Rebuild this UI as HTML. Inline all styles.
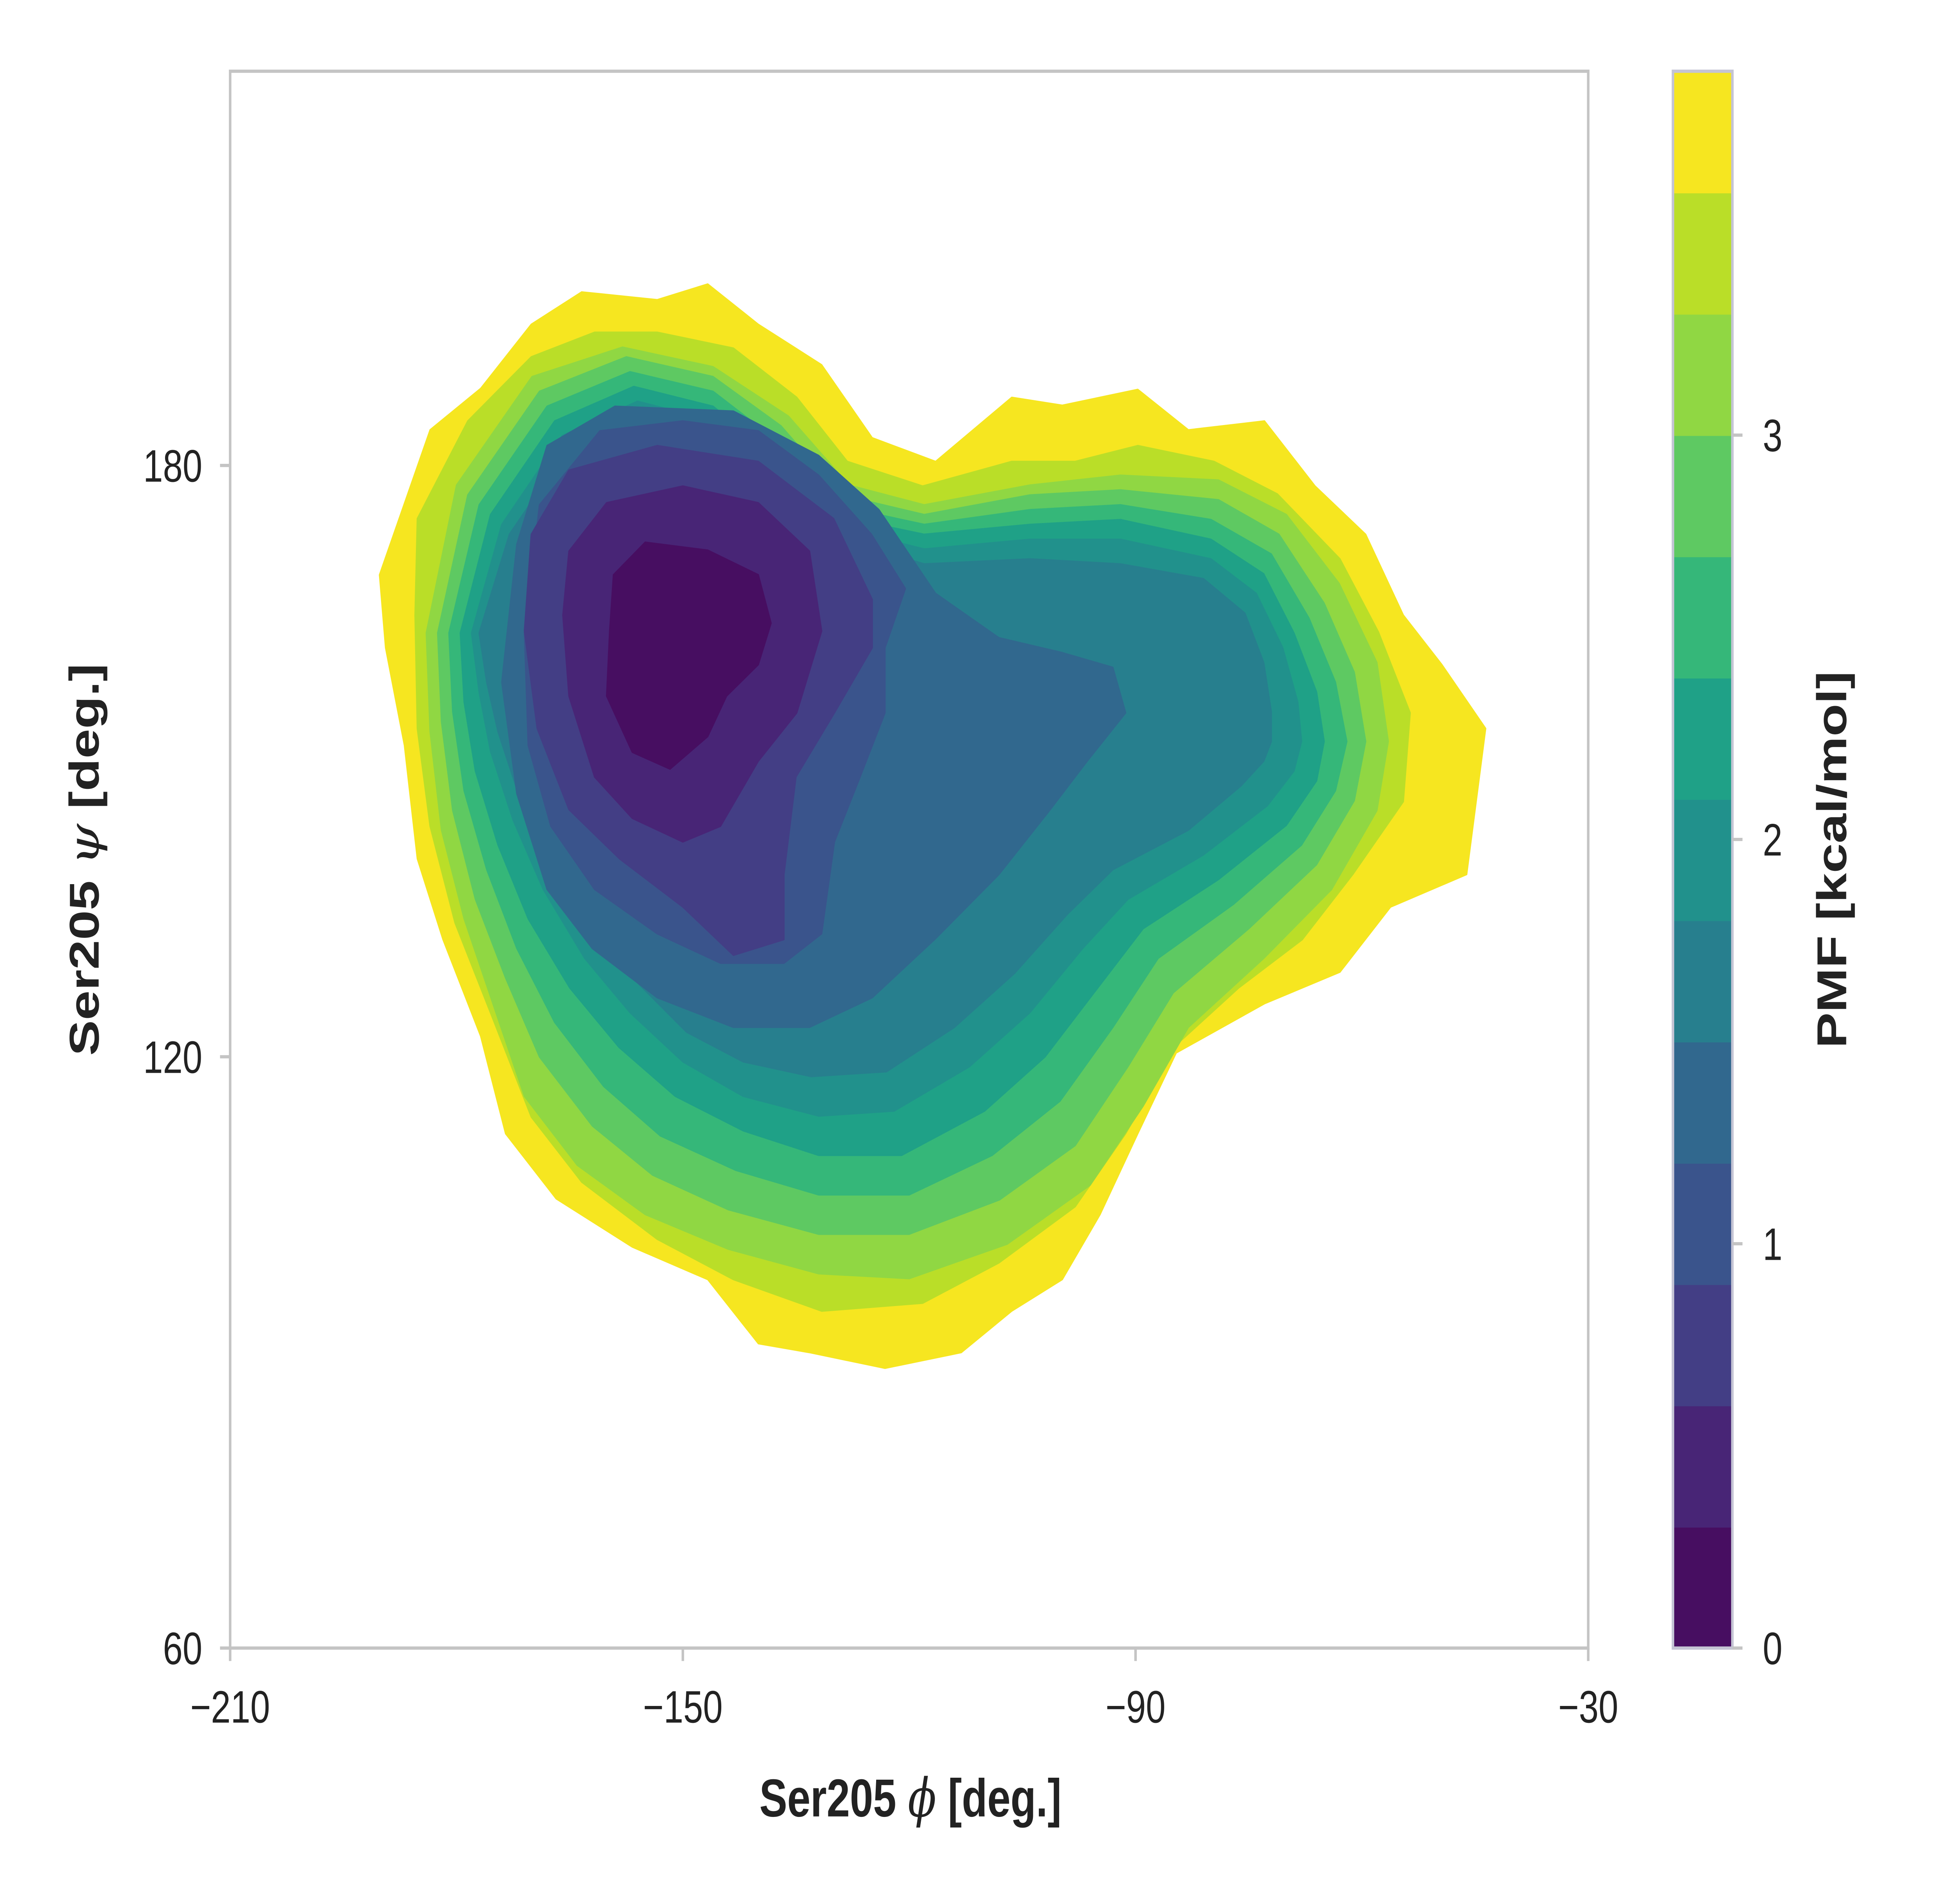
<!DOCTYPE html>
<html>
<head>
<meta charset="utf-8">
<style>
html,body{margin:0;padding:0;background:#fff;width:100%;height:100%;overflow:hidden;}
svg{display:block;width:100vw;height:100vh;}
text{font-family:"Liberation Sans","DejaVu Sans",sans-serif;fill:#222;}
</style>
</head>
<body>
<svg id="chart" viewBox="0 0 1550 1162.5" preserveAspectRatio="none" xmlns="http://www.w3.org/2000/svg">
  <rect x="0" y="0" width="1550" height="1162.5" fill="#fff"/>
  <g id="contours"></g>
  <rect x="182" y="44" width="1074" height="974" fill="none" stroke="#c4c4c4" stroke-width="2"/>
  <g id="xaxis"></g>
  <g id="yaxis"></g>
  <text x="720" y="1122" text-anchor="middle" font-size="33" font-weight="bold">Ser205 <tspan font-style="italic" font-family="DejaVu Serif, serif" font-weight="normal">ϕ</tspan> [deg.]</text>
  <text transform="translate(78,531) rotate(-90)" text-anchor="middle" font-size="33" font-weight="bold">Ser205 <tspan font-style="italic" font-family="DejaVu Serif, serif" font-weight="normal">ψ</tspan> [deg.]</text>
  <g id="colorbar"></g>
  <text transform="translate(1460,531) rotate(-90)" text-anchor="middle" font-size="33" font-weight="bold">PMF [kcal/mol]</text>
</svg>
<script>
// ---- data ----
const levels = [0,0.3,0.6,0.9,1.2,1.5,1.8,2.1,2.4,2.7,3.0,3.3,3.6,3.9];
const bandColors = ["#470e61","#482576","#433e85","#3a548c","#31688e","#277f8e","#21918c","#1fa187","#35b779","#5ec962","#90d743","#bade28","#f6e620"];
const xTicks = [-210,-150,-90,-30];
const yTicks = [60,120,180];
const cbTicks = [0,1,2,3];
const contourL13 = [[-190.2,168.9],[-183.5,183.6],[-176.8,187.8],[-170.1,194.3],[-163.4,197.6],[-153.4,196.8],[-146.7,198.4],[-140,194.3],[-131.6,190.2],[-124.9,182.8],[-116.5,180.4],[-106.4,186.9],[-99.7,186.1],[-89.7,187.7],[-83,183.6],[-72.9,184.5],[-66.2,177.9],[-59.5,173],[-54.5,164.8],[-49.4,159.8],[-43.6,153.3],[-46.1,138.5],[-56.2,135.2],[-62.9,128.6],[-72.9,125.4],[-84.6,120.4],[-89.7,112.2],[-94.7,104],[-99.7,97.4],[-106.4,94.2],[-113.1,90],[-123.2,88.4],[-133.2,90],[-140,90.9],[-146.7,97.4],[-156.7,100.7],[-166.8,105.6],[-173.5,112.2],[-176.8,122.1],[-181.8,131.9],[-185.2,140.1],[-186.9,151.6],[-189.4,161.5]];
const contourL12 = [[-185.2,174.6],[-178.5,184.5],[-170.1,191],[-161.7,193.5],[-153.4,193.5],[-143.3,191.9],[-134.9,186.9],[-128.2,180.4],[-118.2,177.9],[-106.4,180.4],[-98,180.4],[-89.7,182],[-79.6,180.4],[-71.2,177.1],[-62.9,170.5],[-57.8,163.1],[-53.6,154.9],[-54.5,145.9],[-61.2,138.5],[-67.9,131.9],[-76.3,127],[-84.6,121.2],[-91.3,112.2],[-98,104.8],[-108.1,99.1],[-118.2,95],[-131.6,94.2],[-143.3,97.4],[-153.4,101.5],[-163.4,107.3],[-170.1,113.9],[-175.1,123.7],[-180.2,133.6],[-183.5,143.4],[-185.2,153.3],[-185.5,164.8]];
const contourL11 = [[-184,163],[-180,178],[-170,189],[-158,192],[-146,190],[-136,185],[-128,178],[-118,176],[-104,178],[-92,179],[-79,178.5],[-70,175],[-63,168],[-58,160],[-56.5,152],[-58,145],[-64,137],[-73,130],[-83,123],[-89,115],[-96,107],[-107,101],[-120,97.5],[-132,98],[-144,100.5],[-155,104],[-164,109],[-171,116],[-175,125],[-179,134],[-182,143],[-183.5,153]];
const contourL10 = [[-182.5,163],[-178.5,177],[-169,187.5],[-157.5,191],[-146,189],[-137,184],[-129,177],[-118,175],[-104,177],[-92,177.5],[-79,176.5],[-71,173],[-65,166],[-61,159],[-59.5,152],[-61,146],[-66,139.5],[-75,133],[-85,126.5],[-91,119],[-98,111],[-108,105.5],[-120,102],[-132,102],[-144,104.5],[-154,108],[-162,113],[-169,120],[-173.5,128],[-177.5,136],[-180.5,145],[-182,154]];
const contourL9 = [[-181,163],[-177,176],[-168,186],[-157,189.5],[-146,187.5],[-137.5,182.5],[-130,176],[-118,174],[-104,175.5],[-92,176],[-80,174.5],[-72,171],[-67,164.5],[-63.5,158],[-62,152],[-63.5,147],[-68,141.5],[-77,135.5],[-87,130],[-93,123],[-100,115.5],[-109,110],[-120,106],[-132,106],[-143,108.5],[-153,112],[-160.5,117],[-167,123.5],[-172,131],[-176,139],[-179,147],[-180.5,155]];
const contourL8 = [[-179.5,163],[-175.5,175],[-167,184.5],[-156.5,188],[-146,186],[-138,181],[-130.5,175],[-118,173],[-104,174],[-92,174.5],[-80,172.5],[-73,169],[-69,163],[-66,157],[-65,152],[-66,148],[-70,143.5],[-79,138],[-89,133],[-95,127],[-102,120],[-110,114.5],[-121,110],[-132,110],[-142,112.5],[-151,116],[-158.5,121],[-165,127],[-170.5,134],[-174.5,141.5],[-177.5,149],[-179,156]];
const contourL7 = [[-178,163],[-174,174],[-166,183],[-156,186.5],[-146,184.5],[-138.5,180],[-131,174],[-118,171.5],[-104,172.5],[-92,172.5],[-80,170.5],[-74,167],[-70.5,161.5],[-68.5,156],[-68,152],[-69,149],[-72.5,145.5],[-81,140.5],[-91,136],[-97,131],[-104,124.5],[-112,119],[-122,114.5],[-132,114],[-142,116],[-150,119.5],[-157,124.5],[-163,130],[-168.5,137],[-172.5,144],[-175.5,151],[-177,157]];
const contourL6 = [[-177,163],[-173,173],[-165,182],[-156,185],[-146,183],[-139,179],[-131.5,173],[-118,170],[-104,170.5],[-92,170],[-81,168.5],[-75.5,165],[-73,160],[-72,155],[-72,152],[-73,150],[-76,147.5],[-83,143],[-93,139],[-99,134.5],[-106,128.5],[-114,123],[-123,118.5],[-133,118],[-142,119.5],[-149.5,122.5],[-156,127.5],[-162,133],[-167,139.5],[-171.5,146],[-174.5,153],[-176,158]];
const contourL5 = [[-174,158],[-172,172],[-168,182],[-159,186],[-143.3,185.5],[-132,181],[-124,175.5],[-116.5,167],[-108.1,162.5],[-99.7,161],[-93,159.5],[-91.3,154.9],[-96.4,150],[-101.4,145],[-108.1,138.5],[-116.5,132],[-124.9,126],[-133.2,123],[-143.3,123],[-153.4,126],[-162,131],[-168,137],[-172,146.7]];
const contourL4 = [[-171,163],[-169,176],[-161,183.5],[-150,184.5],[-140,183.5],[-132,179],[-125,173],[-120.5,167.5],[-123.2,161.5],[-123.2,154.9],[-126.5,148.4],[-129.9,141.8],[-131.6,132.5],[-136.6,129.5],[-145,129.5],[-153.4,132.5],[-161.7,137],[-167.5,143.4],[-170.5,151.6]];
const contourL3 = [[-170.1,173],[-165.1,179.5],[-153.4,182],[-140,180.4],[-130,174.6],[-124.9,166.4],[-124.9,161.5],[-129.9,154.9],[-135,148.4],[-136.6,138.5],[-136.6,131.9],[-143.3,130.3],[-150,135.2],[-158.4,140.1],[-165.1,145.1],[-169.3,153.3],[-171,163.2]];
const contourL2 = [[-165.1,171.3],[-160.1,176.2],[-150,177.9],[-140,176.2],[-133.2,171.3],[-131.6,163.2],[-134.9,154.9],[-140,150],[-145,143.4],[-150,141.8],[-156.7,144.2],[-161.7,148.4],[-165.1,156.6],[-165.9,164.8]];
const contourL1 = [[-159.2,168.9],[-155,172.2],[-146.7,171.4],[-140,168.9],[-138.3,164],[-140,159.8],[-144.2,156.6],[-146.7,152.5],[-151.7,149.2],[-156.7,150.9],[-160.1,156.6],[-159.7,163.2]];
const contours = [contourL1,contourL2,contourL3,contourL4,contourL5,contourL6,contourL7,contourL8,contourL9,contourL10,contourL11,contourL12,contourL13];

// ---- scales ----
const NS = "http://www.w3.org/2000/svg";
const X0=182, X1=1256, Y0=1018, Y1=44;
const xMin=-210, xMax=-30, yMin=60, yMax=220;
function xs(v){return X0+(v-xMin)/(xMax-xMin)*(X1-X0);}
function ys(v){return Y0-(v-yMin)/(yMax-yMin)*(Y0-Y1);}
const CB_TOP=44, CB_BOT=1018, cbMax=3.9;
function cs(v){return CB_BOT-(v/cbMax)*(CB_BOT-CB_TOP);}
function mk(tag,attrs,parent){const e=document.createElementNS(NS,tag);for(const k in attrs)e.setAttribute(k,attrs[k]);parent.appendChild(e);return e;}

const cg=document.getElementById('contours');
for(let i=contours.length-1;i>=0;i--){
  const pts=contours[i].map(p=>xs(p[0]).toFixed(1)+','+ys(p[1]).toFixed(1)).join(' ');
  const poly=mk('polygon',{points:pts,fill:bandColors[i],stroke:bandColors[i],'stroke-width':1,'stroke-linejoin':'round'},cg);
  
  
}

const xg=document.getElementById('xaxis');
xTicks.forEach(t=>{
  const l=mk('line',{x1:xs(t),x2:xs(t),y1:Y0,y2:Y0+8,stroke:'#c4c4c4','stroke-width':2},xg);
  
  
  const tx=mk('text',{x:xs(t),y:Y0+46,'text-anchor':'middle','font-size':28},xg);
  tx.textContent=String(t).replace('-','\u2212');
  
  
});
const yg=document.getElementById('yaxis');
yTicks.forEach(t=>{
  const l=mk('line',{x1:X0-8,x2:X0,y1:ys(t),y2:ys(t),stroke:'#c4c4c4','stroke-width':2},yg);
  
  
  const tx=mk('text',{x:X0-22,y:ys(t)+10,'text-anchor':'end','font-size':28},yg);
  tx.textContent=String(t);
  
  
});

const cb=document.getElementById('colorbar');
const CBX=1323, CBW=47;
for(let i=0;i<bandColors.length;i++){
  const y1=cs(levels[i+1]), y0=cs(levels[i]);
  const r=mk('rect',{x:CBX,y:y1,width:CBW,height:y0-y1+0.5,fill:bandColors[i]},cb);
  
  
}
const frame=mk('rect',{x:CBX,y:CB_TOP,width:CBW,height:CB_BOT-CB_TOP,fill:'none',stroke:'#c4c4d4','stroke-width':2},cb);


cbTicks.forEach(t=>{
  const l=mk('line',{x1:CBX+CBW,x2:CBX+CBW+8,y1:cs(t),y2:cs(t),stroke:'#c4c4c4','stroke-width':2},cb);
  
  
  const tx=mk('text',{x:CBX+CBW+24,y:cs(t)+10,'text-anchor':'start','font-size':28},cb);
  tx.textContent=String(t);
  
  
});
</script>
</body>
</html>
